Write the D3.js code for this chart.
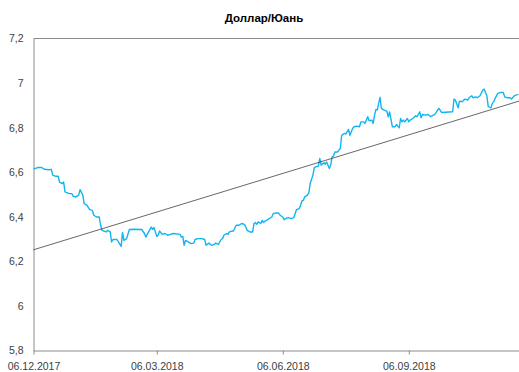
<!DOCTYPE html>
<html>
<head>
<meta charset="utf-8">
<script src="https://cdn.jsdelivr.net/npm/d3@7"></script>
<style>
  html, body { margin: 0; padding: 0; background: #fff; }
  svg { display: block; }
  text { font-family: "Liberation Sans Narrow", "Arial Narrow", "Liberation Sans", sans-serif; }
</style>
</head>
<body>
<svg id="chart" width="519" height="372"></svg>
<script>
// ---- data ----
const title = "Доллар/Юань";
const startDate = "2017-12-06";
// day offsets from startDate
const days = [0,3,6,8,11,13,14,16,18,19,21,22,23,26,28,29,31,33,34,36,37,39,41,43,44,46,48,49,50,53,54,56,57,58,61,62,64,65,66,68,70,73,79,81,82,84,86,87,88,90,91,92,94,96,98,100,102,107,108,109,110,111,113,115,117,118,120,123,125,126,128,130,132,133,135,137,138,139,141,142,143,145,146,148,150,152,154,155,156,158,160,161,162,163,164,166,167,168,169,171,172,174,175,177,179,180,182,183,184,186,188,190,192,194,195,196,197,198,200,201,202,204,205,206,208,209,210,212,213,214,216,217,218,219,220,222,224,225,227,228,230,231,233,234,236,238,239,241,242,244,245,247,248,249,250,251,252,253,254,256,258,259,260,262,264,265,267,268,269,270,271,273,274,275,277,279,280,282,283,284,286,288,290,292,293,295,296,298,306,307,308,310,311,313,315,317,318,320,321,323,324,326,328,329,331,332,334,335,336,337,339,341,343,344,346,348,349,351,352,354];
const rates = [6.614,6.621,6.621,6.613,6.611,6.613,6.587,6.582,6.582,6.556,6.549,6.556,6.512,6.504,6.504,6.492,6.489,6.497,6.522,6.497,6.459,6.452,6.432,6.429,6.407,6.399,6.399,6.362,6.339,6.332,6.339,6.332,6.287,6.298,6.298,6.287,6.267,6.330,6.294,6.302,6.343,6.344,6.343,6.325,6.309,6.332,6.354,6.343,6.352,6.312,6.317,6.336,6.321,6.325,6.317,6.321,6.325,6.321,6.309,6.312,6.272,6.294,6.287,6.280,6.282,6.298,6.302,6.302,6.298,6.272,6.282,6.272,6.276,6.282,6.276,6.298,6.302,6.317,6.325,6.321,6.332,6.336,6.336,6.362,6.362,6.370,6.366,6.354,6.339,6.332,6.332,6.370,6.374,6.366,6.377,6.370,6.384,6.374,6.381,6.387,6.392,6.399,6.414,6.417,6.417,6.407,6.399,6.387,6.392,6.396,6.392,6.396,6.432,6.437,6.452,6.471,6.474,6.489,6.497,6.507,6.549,6.587,6.621,6.624,6.627,6.662,6.632,6.642,6.636,6.646,6.617,6.632,6.669,6.672,6.691,6.691,6.707,6.766,6.774,6.771,6.792,6.766,6.796,6.804,6.807,6.804,6.826,6.826,6.819,6.849,6.831,6.834,6.819,6.856,6.882,6.879,6.909,6.936,6.886,6.879,6.874,6.849,6.870,6.804,6.804,6.814,6.799,6.841,6.826,6.834,6.826,6.841,6.826,6.834,6.841,6.853,6.849,6.871,6.844,6.859,6.856,6.859,6.849,6.856,6.859,6.879,6.886,6.868,6.871,6.928,6.924,6.889,6.919,6.916,6.928,6.924,6.934,6.943,6.934,6.938,6.934,6.943,6.969,6.973,6.943,6.894,6.889,6.909,6.916,6.931,6.954,6.958,6.958,6.938,6.934,6.934,6.928,6.943,6.946,6.949];
// linear trend line (start / end)
const trendDays = [0, 356];
const trendValues = [6.252, 6.922];
const xTickDates = ["2017-12-06", "2018-03-06", "2018-06-06", "2018-09-06"];
const yTicks = [5.8, 6, 6.2, 6.4, 6.6, 6.8, 7, 7.2];
const xDomainEnd = "2018-12-06";

// ---- chart ----
const parse = d3.timeParse("%Y-%m-%d");
const t0 = parse(startDate);
const series = days.map((d, i) => ({ date: d3.timeDay.offset(t0, d), value: rates[i] }));
const trend = trendDays.map((d, i) => ({ date: d3.timeDay.offset(t0, d), value: trendValues[i] }));

const svg = d3.select("#chart");
const mLeft = 33.5, mTop = 38.5, mBottom = 350.5;
const pxPerDay = 1.3697;
const xEnd = parse(xDomainEnd);
const x = d3.scaleTime().domain([t0, xEnd])
  .range([mLeft, mLeft + d3.timeDay.count(t0, xEnd) * pxPerDay]);
const y = d3.scaleLinear().domain([5.8, 7.2]).range([mBottom, mTop]);

const axisColor = "#8c8c8c";
const textColor = "#404040";
const fontFam = '"Liberation Sans Narrow", "Arial Narrow", "Liberation Sans", sans-serif';

// plot border (top line)
svg.append("line")
  .attr("x1", mLeft).attr("x2", x.range()[1])
  .attr("y1", mTop).attr("y2", mTop)
  .attr("stroke", axisColor).attr("stroke-width", 1);

// y axis
const fmt = v => String(+v.toFixed(1)).replace(".", ",");
const yAxis = svg.append("g")
  .attr("transform", `translate(${mLeft},0)`)
  .call(d3.axisLeft(y).tickValues(yTicks).tickSize(0).tickPadding(10).tickFormat(fmt));
yAxis.select(".domain").attr("stroke", axisColor);
yAxis.selectAll("text").attr("fill", textColor).style("font-size", "10.5px").style("font-family", fontFam);

// x axis
const xAxis = svg.append("g")
  .attr("transform", `translate(0,${mBottom})`)
  .call(d3.axisBottom(x).tickValues(xTickDates.map(parse)).tickSizeInner(4).tickSizeOuter(0)
    .tickPadding(8).tickFormat(d3.timeFormat("%d.%m.%Y")));
xAxis.select(".domain").attr("stroke", axisColor);
xAxis.selectAll(".tick line").attr("stroke", axisColor);
xAxis.selectAll("text").attr("fill", textColor).style("font-size", "10.5px").style("font-family", fontFam);

// series line
const line = d3.line().x(d => x(d.date)).y(d => y(d.value));
svg.append("path").datum(series)
  .attr("fill", "none").attr("stroke", "#12b5f0").attr("stroke-width", 1.4)
  .attr("stroke-linejoin", "round")
  .attr("d", line);

// trend line
svg.append("path").datum(trend)
  .attr("fill", "none").attr("stroke", "#404040").attr("stroke-width", 0.8)
  .attr("d", line);

// title
svg.append("text")
  .attr("x", 264).attr("y", 22)
  .attr("text-anchor", "middle")
  .attr("fill", "#000")
  .style("font-size", "11.5px").style("font-weight", "bold").style("font-family", fontFam)
  .text(title);
</script>
</body>
</html>
